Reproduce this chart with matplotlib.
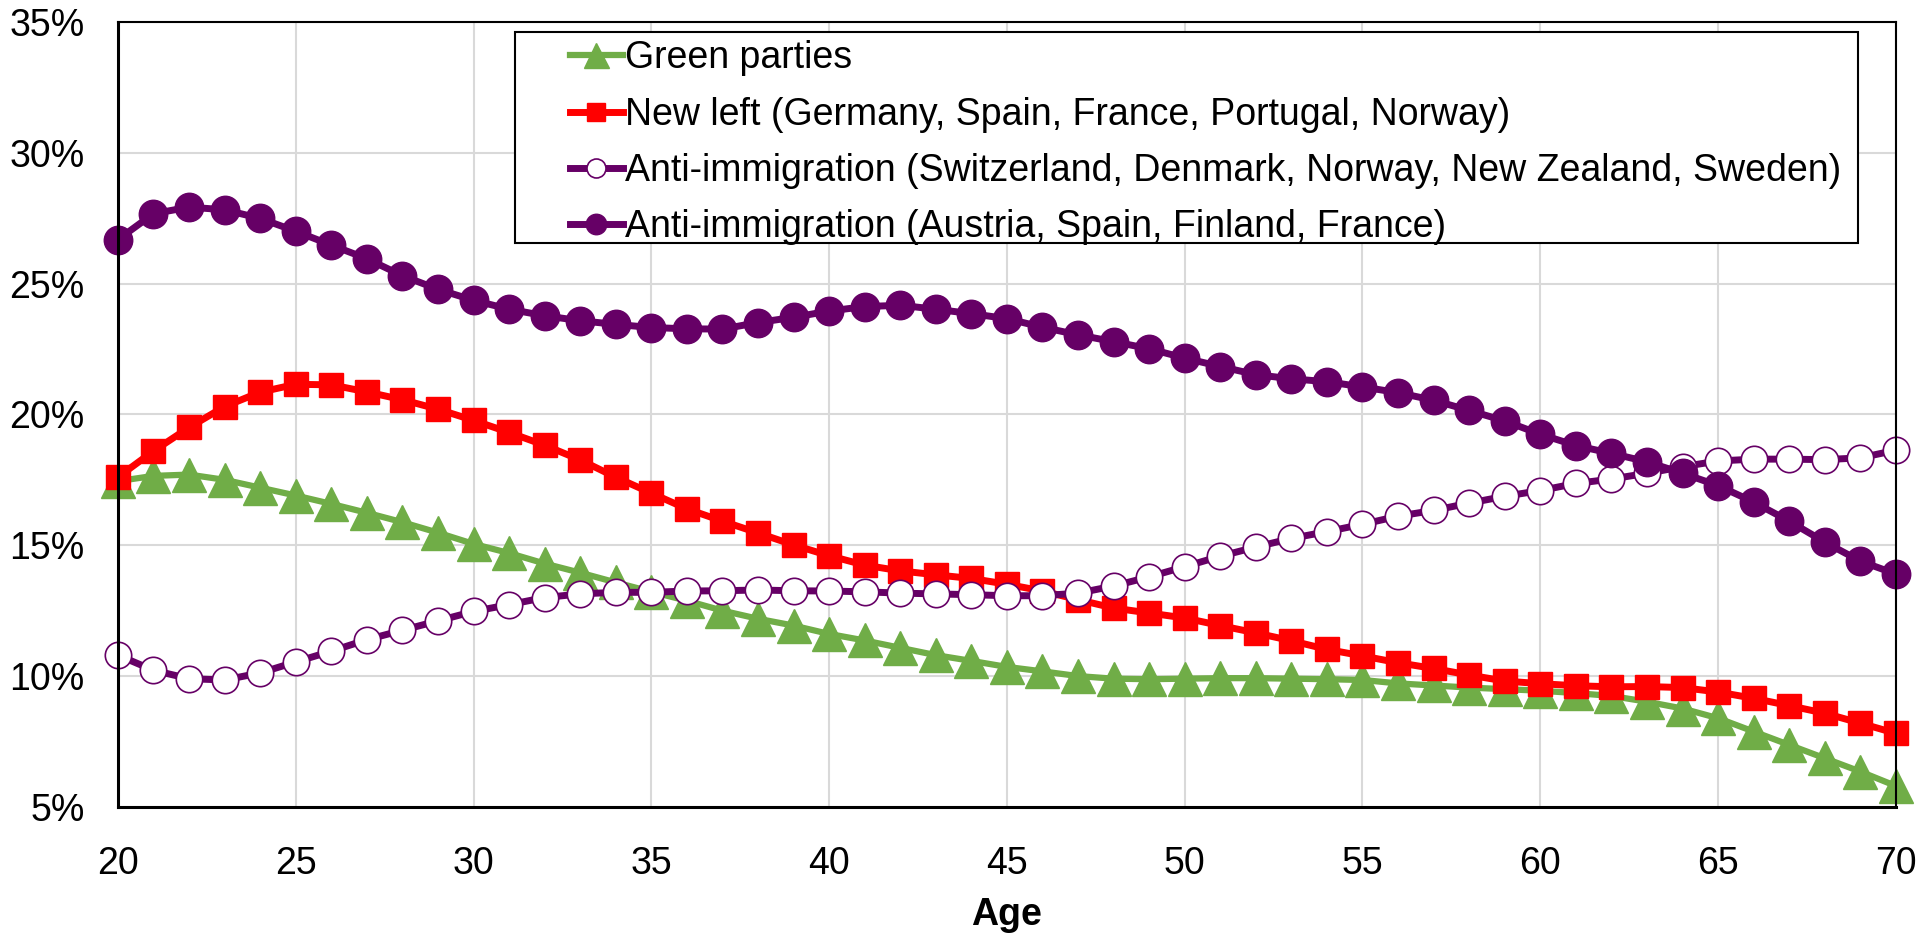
import numpy as np
import matplotlib
matplotlib.use('Agg')
import matplotlib.pyplot as plt
from matplotlib.ticker import FuncFormatter
from matplotlib.patches import Rectangle

plt.rcParams['font.family'] = ['Liberation Sans', 'DejaVu Sans']

ages = list(range(20, 71))

green = [17.45, 17.65, 17.7, 17.5, 17.2, 16.9, 16.58, 16.24, 15.88, 15.48,
         15.05, 14.7, 14.3, 13.95, 13.58, 13.22, 12.88, 12.5, 12.19, 11.93,
         11.61, 11.36, 11.08, 10.8, 10.58, 10.35, 10.18, 10.0, 9.9, 9.88,
         9.9, 9.92, 9.92, 9.9, 9.88, 9.85, 9.72, 9.64, 9.56, 9.5,
         9.44, 9.35, 9.24, 9.02, 8.76, 8.39, 7.88, 7.37, 6.86, 6.35, 5.8]

new_left = [17.6, 18.6, 19.5, 20.3, 20.85, 21.15, 21.13, 20.86, 20.56, 20.2,
            19.77, 19.31, 18.82, 18.26, 17.6, 16.99, 16.39, 15.92, 15.47, 15.01,
            14.6, 14.24, 14.02, 13.87, 13.73, 13.51, 13.25, 12.92, 12.6, 12.41,
            12.22, 11.93, 11.65, 11.35, 11.02, 10.77, 10.51, 10.29, 10.04, 9.81,
            9.71, 9.63, 9.59, 9.6, 9.56, 9.39, 9.15, 8.87, 8.58, 8.2, 7.81]

anti_a = [10.8, 10.22, 9.9, 9.85, 10.12, 10.54, 10.95, 11.39, 11.75, 12.11,
          12.47, 12.73, 13.0, 13.14, 13.2, 13.2, 13.25, 13.26, 13.29, 13.26,
          13.25, 13.22, 13.17, 13.14, 13.11, 13.07, 13.07, 13.17, 13.44, 13.79,
          14.18, 14.58, 14.93, 15.26, 15.52, 15.8, 16.11, 16.33, 16.61, 16.87,
          17.09, 17.36, 17.53, 17.75, 18.0, 18.22, 18.29, 18.29, 18.27, 18.34, 18.63]

anti_b = [26.68, 27.67, 27.92, 27.82, 27.49, 27.0, 26.47, 25.95, 25.3, 24.78,
          24.36, 24.02, 23.77, 23.58, 23.44, 23.32, 23.27, 23.26, 23.51, 23.71,
          23.95, 24.12, 24.17, 24.02, 23.85, 23.66, 23.33, 23.04, 22.78, 22.51,
          22.15, 21.83, 21.52, 21.36, 21.25, 21.05, 20.83, 20.54, 20.15, 19.75,
          19.24, 18.81, 18.51, 18.19, 17.75, 17.28, 16.65, 15.92, 15.12, 14.39, 13.9]

labels = ['Green parties',
          'New left (Germany, Spain, France, Portugal, Norway)',
          'Anti-immigration (Switzerland, Denmark, Norway, New Zealand, Sweden)',
          'Anti-immigration (Austria, Spain, Finland, France)']

purple = '#660066'

fig = plt.figure(figsize=(19.33, 9.35), dpi=100)
ax = fig.add_axes([0.061, 0.137, 0.9198, 0.8396])

ax.plot(ages, green, color='#70AD47', lw=4.5, marker='^', ms=25,
        mec='#70AD47', label=labels[0], clip_on=False)
ax.plot(ages, new_left, color='#FF0000', lw=5, marker='s', ms=17.5,
        mec='#FF0000', label=labels[1], clip_on=False)
ax.plot(ages, anti_a, color=purple, lw=5, marker='o', ms=19,
        mfc='white', mec=purple, mew=1.2, label=labels[2], clip_on=False)
ax.plot(ages, anti_b, color=purple, lw=5, marker='o', ms=20.5,
        mec=purple, label=labels[3], clip_on=False)

ax.set_xlim(20, 70)
ax.set_ylim(5, 35)
ax.set_xticks(range(20, 71, 5))
ax.set_yticks(range(5, 36, 5))
ax.yaxis.set_major_formatter(FuncFormatter(lambda v, p: '%d%%' % v))
ax.grid(True, color='#D9D9D9', lw=1.5)
ax.set_axisbelow(True)
ax.tick_params(length=0, labelsize=27)
ax.tick_params(axis='y', pad=24)
ax.tick_params(axis='x', pad=28)
for s in ax.spines.values():
    s.set_color('black')
    s.set_linewidth(1.5)
for s in ['left', 'bottom']:
    ax.spines[s].set_linewidth(2.2)

ax.set_xlabel('Age', fontsize=27, fontweight='bold', labelpad=11)

# legend box drawn separately (Excel style has wide left padding)
box = Rectangle((0.2233, 0.7185), 0.7553, 0.2688, transform=ax.transAxes,
                facecolor='white', edgecolor='black', lw=1.5, zorder=4.9)
ax.add_patch(box)
leg = ax.legend(loc='upper left', bbox_to_anchor=(0.2542, 0.9764), borderaxespad=0,
                fontsize=27, frameon=False, handlelength=1.41,
                handletextpad=0.05, labelspacing=0.54, borderpad=0,
                markerscale=0.72)

fig.savefig('out.png', dpi=100)
